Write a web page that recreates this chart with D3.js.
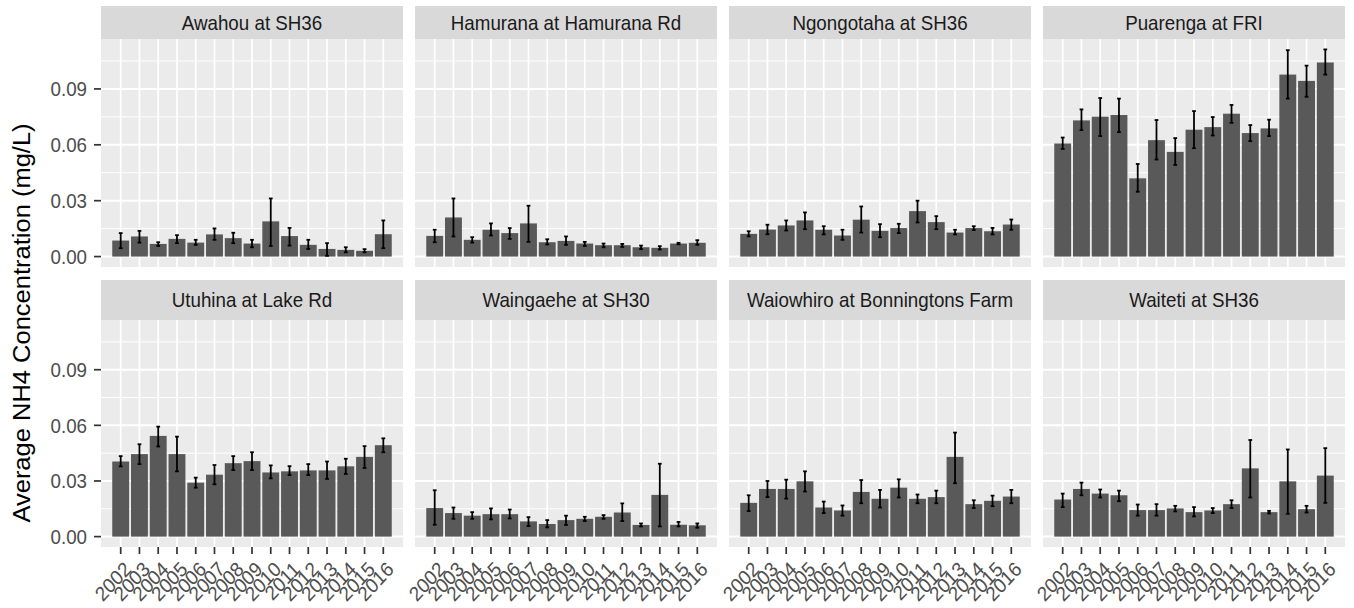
<!DOCTYPE html>
<html>
<head>
<meta charset="utf-8">
<script src="https://cdn.jsdelivr.net/npm/d3@7"></script>
<style>
  body { margin: 0; background: #fff; }
  svg { display: block; font-family: "Liberation Sans", Arial, sans-serif; }
</style>
</head>
<body>
<svg id="chart"></svg>
<script>
// Years on the x axis (same for every site)
const years = ["2002", "2003", "2004", "2005", "2006", "2007", "2008", "2009",
  "2010", "2011", "2012", "2013", "2014", "2015", "2016"];

// y axis ticks
const yTicks = [0, 0.03, 0.06, 0.09];
const yMinor = [0.015, 0.045, 0.075, 0.105];

// Average NH4 per year and error bar ends, one set per site
const awahouMean = [0.0086, 0.0108, 0.0068, 0.0095, 0.0075, 0.0119, 0.0099, 0.0070, 0.0189, 0.0110, 0.0063, 0.0041, 0.0036, 0.0031, 0.0120];
const awahouLow  = [0.0045, 0.0075, 0.0057, 0.0072, 0.0063, 0.0090, 0.0072, 0.0050, 0.0057, 0.0059, 0.0041, 0.0004, 0.0023, 0.0023, 0.0045];
const awahouHigh = [0.0126, 0.0138, 0.0077, 0.0115, 0.0090, 0.0151, 0.0128, 0.0090, 0.0312, 0.0154, 0.0090, 0.0072, 0.0050, 0.0040, 0.0194];

const hamuranaMean = [0.0111, 0.0210, 0.0090, 0.0144, 0.0126, 0.0178, 0.0077, 0.0084, 0.0070, 0.0061, 0.0061, 0.0050, 0.0047, 0.0070, 0.0074];
const hamuranaLow  = [0.0077, 0.0108, 0.0075, 0.0113, 0.0095, 0.0079, 0.0065, 0.0063, 0.0057, 0.0050, 0.0052, 0.0040, 0.0038, 0.0066, 0.0063];
const hamuranaHigh = [0.0144, 0.0312, 0.0104, 0.0178, 0.0153, 0.0273, 0.0093, 0.0108, 0.0079, 0.0070, 0.0068, 0.0059, 0.0056, 0.0074, 0.0088];

const ngongotahaMean = [0.0122, 0.0145, 0.0167, 0.0194, 0.0144, 0.0113, 0.0198, 0.0138, 0.0153, 0.0244, 0.0185, 0.0129, 0.0153, 0.0136, 0.0172];
const ngongotahaLow  = [0.0108, 0.0120, 0.0140, 0.0147, 0.0119, 0.0090, 0.0129, 0.0104, 0.0126, 0.0183, 0.0147, 0.0119, 0.0142, 0.0119, 0.0144];
const ngongotahaHigh = [0.0136, 0.0171, 0.0194, 0.0237, 0.0163, 0.0144, 0.0269, 0.0174, 0.0176, 0.0300, 0.0217, 0.0144, 0.0163, 0.0154, 0.0199];

const puarengaMean = [0.0607, 0.0731, 0.0751, 0.0760, 0.0420, 0.0625, 0.0562, 0.0681, 0.0695, 0.0767, 0.0663, 0.0688, 0.0977, 0.0943, 0.1042];
const puarengaLow  = [0.0578, 0.0679, 0.0647, 0.0668, 0.0348, 0.0521, 0.0492, 0.0582, 0.0650, 0.0718, 0.0620, 0.0647, 0.0848, 0.0858, 0.0977];
const puarengaHigh = [0.0639, 0.0790, 0.0851, 0.0848, 0.0497, 0.0733, 0.0636, 0.0781, 0.0749, 0.0814, 0.0706, 0.0735, 0.1108, 0.1025, 0.1112];

const utuhinaMean = [0.0405, 0.0445, 0.0543, 0.0445, 0.0291, 0.0334, 0.0396, 0.0407, 0.0346, 0.0352, 0.0357, 0.0357, 0.0379, 0.0430, 0.0493];
const utuhinaLow  = [0.0379, 0.0391, 0.0486, 0.0352, 0.0264, 0.0282, 0.0359, 0.0359, 0.0314, 0.0332, 0.0332, 0.0311, 0.0338, 0.0370, 0.0455];
const utuhinaHigh = [0.0434, 0.0498, 0.0593, 0.0539, 0.0318, 0.0386, 0.0434, 0.0455, 0.0384, 0.0380, 0.0391, 0.0405, 0.0420, 0.0488, 0.0530];

const waingaeheMean = [0.0154, 0.0127, 0.0113, 0.0121, 0.0121, 0.0082, 0.0068, 0.0089, 0.0096, 0.0107, 0.0130, 0.0063, 0.0225, 0.0064, 0.0061];
const waingaeheLow  = [0.0064, 0.0096, 0.0096, 0.0093, 0.0098, 0.0057, 0.0050, 0.0063, 0.0084, 0.0096, 0.0084, 0.0055, 0.0055, 0.0055, 0.0048];
const waingaeheHigh = [0.0250, 0.0157, 0.0132, 0.0152, 0.0146, 0.0105, 0.0089, 0.0113, 0.0107, 0.0116, 0.0179, 0.0071, 0.0393, 0.0079, 0.0071];

const waiowhiroMean = [0.0182, 0.0257, 0.0257, 0.0298, 0.0157, 0.0141, 0.0241, 0.0204, 0.0264, 0.0204, 0.0213, 0.0430, 0.0175, 0.0193, 0.0216];
const waiowhiroLow  = [0.0138, 0.0213, 0.0205, 0.0243, 0.0127, 0.0113, 0.0180, 0.0157, 0.0211, 0.0180, 0.0180, 0.0288, 0.0154, 0.0164, 0.0180];
const waiowhiroHigh = [0.0223, 0.0300, 0.0307, 0.0352, 0.0189, 0.0168, 0.0305, 0.0252, 0.0309, 0.0227, 0.0248, 0.0561, 0.0196, 0.0221, 0.0252];

const waitetiMean = [0.0200, 0.0257, 0.0232, 0.0223, 0.0143, 0.0143, 0.0152, 0.0132, 0.0141, 0.0175, 0.0368, 0.0132, 0.0298, 0.0148, 0.0329];
const waitetiLow  = [0.0159, 0.0223, 0.0211, 0.0191, 0.0113, 0.0113, 0.0136, 0.0109, 0.0127, 0.0154, 0.0211, 0.0125, 0.0123, 0.0130, 0.0182];
const waitetiHigh = [0.0232, 0.0291, 0.0254, 0.0248, 0.0173, 0.0175, 0.0166, 0.0159, 0.0154, 0.0196, 0.0521, 0.0139, 0.0470, 0.0166, 0.0477];

const sites = [
  { name: "Awahou at SH36", mean: awahouMean, low: awahouLow, high: awahouHigh },
  { name: "Hamurana at Hamurana Rd", mean: hamuranaMean, low: hamuranaLow, high: hamuranaHigh },
  { name: "Ngongotaha at SH36", mean: ngongotahaMean, low: ngongotahaLow, high: ngongotahaHigh },
  { name: "Puarenga at FRI", mean: puarengaMean, low: puarengaLow, high: puarengaHigh },
  { name: "Utuhina at Lake Rd", mean: utuhinaMean, low: utuhinaLow, high: utuhinaHigh },
  { name: "Waingaehe at SH30", mean: waingaeheMean, low: waingaeheLow, high: waingaeheHigh },
  { name: "Waiowhiro at Bonningtons Farm", mean: waiowhiroMean, low: waiowhiroLow, high: waiowhiroHigh },
  { name: "Waiteti at SH36", mean: waitetiMean, low: waitetiLow, high: waitetiHigh }
];

// Layout (the reference is a bit squeezed horizontally, so text gets scaleX)
const width = 1354, height = 608;
const sx = 0.92;
const panelW = 302;
const colX = i => 101 + i * 314;
const rows = [
  { stripTop: 6, panelTop: 39, panelBottom: 267 },
  { stripTop: 280, panelTop: 320, panelBottom: 547 }
];

const svg = d3.select("#chart")
  .attr("width", width)
  .attr("height", height);

sites.forEach((site, i) => {
  const col = i % 4;
  const row = rows[Math.floor(i / 4)];
  const x0 = colX(col);

  const x = d3.scaleBand()
    .domain(years)
    .range([x0, x0 + panelW])
    .paddingInner(0.1)
    .paddingOuter(0.6);

  const y = d3.scaleLinear()
    .domain([-0.0056, 0.1168])
    .range([row.panelBottom, row.panelTop]);

  const g = svg.append("g");

  // strip
  g.append("rect")
    .attr("x", x0).attr("y", row.stripTop)
    .attr("width", panelW).attr("height", row.panelTop - row.stripTop)
    .attr("fill", "#d9d9d9");
  g.append("text")
    .attr("transform", `translate(${x0 + panelW / 2},${(row.stripTop + row.panelTop) / 2}) scale(${sx},1)`)
    .attr("dy", "0.36em")
    .attr("text-anchor", "middle")
    .style("font-size", "20.4px")
    .attr("fill", "#1a1a1a")
    .text(site.name);

  // panel background + grid
  g.append("rect")
    .attr("x", x0).attr("y", row.panelTop)
    .attr("width", panelW).attr("height", row.panelBottom - row.panelTop)
    .attr("fill", "#ebebeb");

  g.selectAll(".minor")
    .data(yMinor)
    .enter().append("line")
    .attr("x1", x0).attr("x2", x0 + panelW)
    .attr("y1", d => y(d)).attr("y2", d => y(d))
    .attr("stroke", "#fff").attr("stroke-width", 1);

  g.selectAll(".major")
    .data(yTicks)
    .enter().append("line")
    .attr("x1", x0).attr("x2", x0 + panelW)
    .attr("y1", d => y(d)).attr("y2", d => y(d))
    .attr("stroke", "#fff").attr("stroke-width", 2);

  g.selectAll(".vgrid")
    .data(years)
    .enter().append("line")
    .attr("x1", d => x(d) + x.bandwidth() / 2).attr("x2", d => x(d) + x.bandwidth() / 2)
    .attr("y1", row.panelTop).attr("y2", row.panelBottom)
    .attr("stroke", "#fff").attr("stroke-width", 1.7);

  // bars
  g.selectAll(".bar")
    .data(years)
    .enter().append("rect")
    .attr("x", d => x(d))
    .attr("width", x.bandwidth())
    .attr("y", (d, k) => y(site.mean[k]))
    .attr("height", (d, k) => y(0) - y(site.mean[k]))
    .attr("fill", "#595959");

  // error bars
  const capW = x.step() * 0.2;
  const eb = g.selectAll(".err")
    .data(years)
    .enter().append("g")
    .attr("stroke", "#000")
    .attr("stroke-width", 1.8);
  eb.append("line")
    .attr("x1", d => x(d) + x.bandwidth() / 2).attr("x2", d => x(d) + x.bandwidth() / 2)
    .attr("y1", (d, k) => y(site.low[k])).attr("y2", (d, k) => y(site.high[k]));
  eb.append("line")
    .attr("x1", d => x(d) + x.bandwidth() / 2 - capW / 2).attr("x2", d => x(d) + x.bandwidth() / 2 + capW / 2)
    .attr("y1", (d, k) => y(site.low[k])).attr("y2", (d, k) => y(site.low[k]));
  eb.append("line")
    .attr("x1", d => x(d) + x.bandwidth() / 2 - capW / 2).attr("x2", d => x(d) + x.bandwidth() / 2 + capW / 2)
    .attr("y1", (d, k) => y(site.high[k])).attr("y2", (d, k) => y(site.high[k]));

  // y axis on first column only
  if (col === 0) {
    yTicks.forEach(t => {
      g.append("line")
        .attr("x1", x0 - 7).attr("x2", x0)
        .attr("y1", y(t)).attr("y2", y(t))
        .attr("stroke", "#333").attr("stroke-width", 1.7);
      g.append("text")
        .attr("transform", `translate(${x0 - 14},${y(t)}) scale(${sx},1)`)
        .attr("dy", "0.36em")
        .attr("text-anchor", "end")
        .style("font-size", "20.4px")
        .attr("fill", "#4d4d4d")
        .text(d3.format(".2f")(t));
    });
  }

  // x axis on bottom row only
  if (i >= 4) {
    years.forEach(yr => {
      const cx = x(yr) + x.bandwidth() / 2;
      g.append("line")
        .attr("x1", cx).attr("x2", cx)
        .attr("y1", row.panelBottom).attr("y2", row.panelBottom + 7)
        .attr("stroke", "#333").attr("stroke-width", 1.7);
      g.append("text")
        .attr("transform", `translate(${cx + 2},${row.panelBottom + 13}) scale(${sx},1) rotate(-45)`)
        .attr("dy", "0.72em")
        .attr("text-anchor", "end")
        .style("font-size", "20.4px")
        .attr("fill", "#4d4d4d")
        .text(yr);
    });
  }
});

// y axis title
svg.append("text")
  .attr("transform", `translate(22,323) scale(${sx},1) rotate(-90)`)
  .attr("dy", "0.36em")
  .attr("text-anchor", "middle")
  .style("font-size", "25.5px")
  .attr("fill", "#000")
  .text("Average NH4 Concentration (mg/L)");
</script>
</body>
</html>
